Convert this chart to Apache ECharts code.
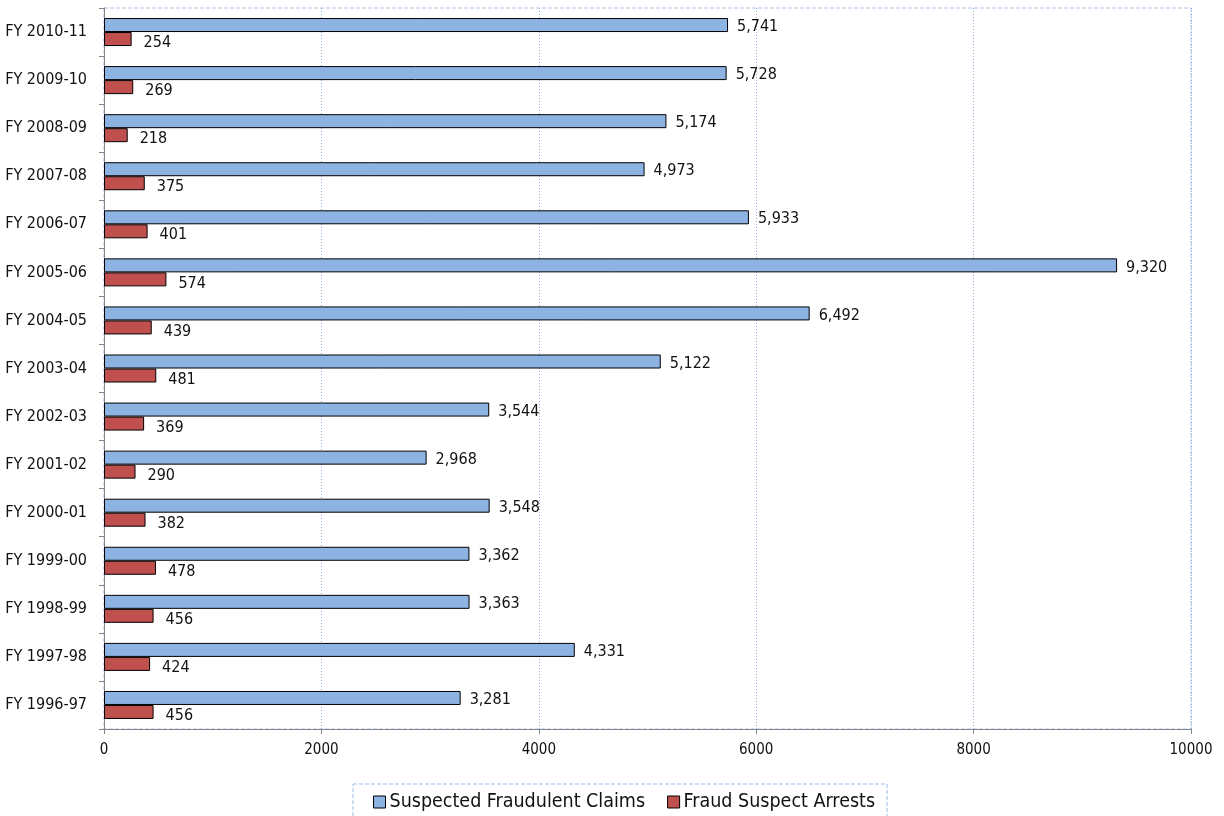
<!DOCTYPE html>
<html><head><meta charset="utf-8">
<script src="https://cdn.jsdelivr.net/npm/echarts@6/dist/echarts.min.js"></script>
<style>html,body{margin:0;padding:0;background:#fff}#c{width:1224px;height:816px}</style>
</head><body><div id="c"></div>
<script>
const categories = ['FY 2010-11','FY 2009-10','FY 2008-09','FY 2007-08','FY 2006-07','FY 2005-06','FY 2004-05','FY 2003-04','FY 2002-03','FY 2001-02','FY 2000-01','FY 1999-00','FY 1998-99','FY 1997-98','FY 1996-97'];
const claims = [5741,5728,5174,4973,5933,9320,6492,5122,3544,2968,3548,3362,3363,4331,3281];
const arrests = [254,269,218,375,401,574,439,481,369,290,382,478,456,424,456];
const seriesNames = ['Suspected Fraudulent Claims','Fraud Suspect Arrests'];
const FONT = '"DejaVu Sans Condensed", sans-serif';
const fmt = v => v.value.toLocaleString('en-US');
const chart = echarts.init(document.getElementById('c'));
chart.setOption({
  animation: false,
  textStyle: {fontFamily: FONT},
  grid: {left: 104, right: 33, top: 8, bottom: 87, containLabel: false, outerBoundsMode: 'none', show: true, borderColor: '#a9c4e6', borderWidth: 1, borderType: [4,2]},
  legend: {
    top: 784, left: 353,
    data: seriesNames,
    itemWidth: 12, itemHeight: 12, itemGap: 22,
    icon: 'rect',
    itemStyle: {borderColor: '#000', borderWidth: 1},
    borderColor: '#9dbde6', borderWidth: 1, borderType: [4,2],
    padding: [8, 12, 12, 20],
    textStyle: {fontFamily: FONT, fontSize: 19.5, color: '#111', padding: [0, 0, 0, -1]}
  },
  xAxis: {
    type: 'value', min: 0, max: 10000, interval: 2000,
    axisLine: {show: true, lineStyle: {color: '#868686'}},
    axisTick: {show: true, length: 5, lineStyle: {color: '#868686'}},
    axisLabel: {fontFamily: FONT, fontSize: 15, color: '#111', margin: 14, formatter: v => String(v)},
    splitLine: {show: true, lineStyle: {color: '#8fb0dc', type: [1,2]}}
  },
  yAxis: {
    type: 'category', data: categories, inverse: true,
    axisLine: {show: true, lineStyle: {color: '#868686'}},
    axisTick: {show: true, inside: false, length: 5, lineStyle: {color: '#868686'}},
    axisLabel: {fontFamily: FONT, fontSize: 16, color: '#111', margin: 17}
  },
  series: [
    {name: seriesNames[0], type: 'bar', data: claims, barWidth: 14, barGap: '0%',
     itemStyle: {color: '#8db3e2', borderColor: '#000', borderWidth: 1},
     label: {show: true, position: 'right', distance: 9, offset: [0, 2], formatter: fmt, fontFamily: FONT, fontSize: 16, color: '#111'}},
    {name: seriesNames[1], type: 'bar', data: arrests, barWidth: 14,
     itemStyle: {color: '#c0504d', borderColor: '#000', borderWidth: 1},
     label: {show: true, position: 'right', distance: 12, offset: [0, 4], formatter: fmt, fontFamily: FONT, fontSize: 16, color: '#111'}}
  ]
});
</script></body></html>
